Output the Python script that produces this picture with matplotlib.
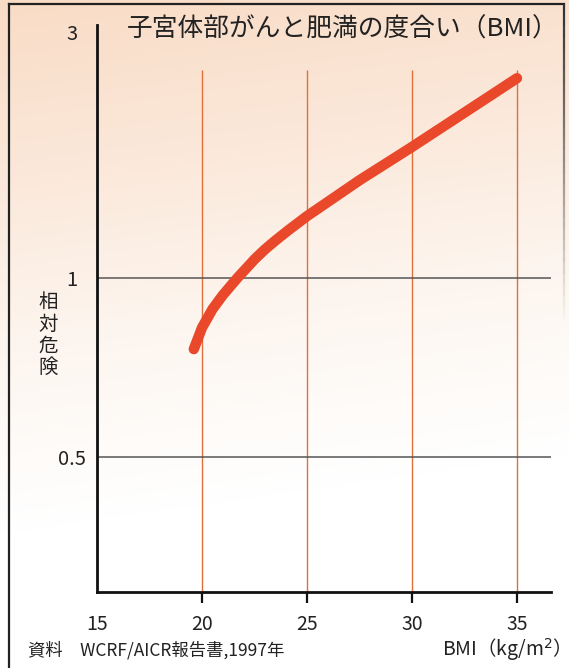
import numpy as np
import matplotlib.pyplot as plt
from matplotlib.lines import Line2D
from matplotlib.collections import LineCollection
from matplotlib.colors import LinearSegmentedColormap

plt.rcParams['font.family'] = ['Noto Sans CJK JP', 'DejaVu Sans']

# BMI vs relative risk (endometrial cancer)
bmi = [19.61, 20.0, 20.5, 20.99, 21.7, 22.12, 22.51, 22.99, 23.46, 24.09,
       25.0, 27.5, 30.0, 32.5, 35.0]
risk = [0.751, 0.817, 0.880, 0.931, 1.0, 1.040, 1.079, 1.123, 1.163, 1.216,
        1.293, 1.51, 1.75, 2.045, 2.40]

xticks = [15, 20, 25, 30, 35]
grid_x = [20, 25, 30, 35]
grid_y = [0.5, 1]
ytick_labels = {3: "3", 1: "1", 0.5: "0.5"}

W, H = 569, 668
fig = plt.figure(figsize=(W / 100, H / 100), dpi=100)

# peach-to-white background
bg = fig.add_axes([0, 0, 1, 1], zorder=-10)
cmap = LinearSegmentedColormap.from_list("peach", ["#f9dcc6", "#fbe8da", "#fdf6f0", "#ffffff"])
yy = np.linspace(0, 1, 256)[:, None]
xx = np.linspace(0, 1, 64)[None, :]
grad = np.clip(yy * 1.25 + xx * 0.15, 0, 1)
bg.imshow(grad, cmap=cmap, aspect="auto", extent=[0, 1, 1, 0])
bg.set_xlim(0, 1)
bg.set_ylim(1, 0)
bg.axis("off")

# frame
def px(x, y):
    return x / W, 1 - y / H

fig.add_artist(Line2D(*zip(px(9, 4), px(9, 668)), color="#222222", lw=1.6))
fig.add_artist(Line2D(*zip(px(9, 4), px(564, 4)), color="#222222", lw=1.6))
seg_y = np.linspace(4, 330, 30)
segs = [[px(564, a), px(564, b)] for a, b in zip(seg_y[:-1], seg_y[1:])]
alphas = np.linspace(1, 0, len(segs))
lc = LineCollection(segs, colors=[(0.2, 0.2, 0.2, a) for a in alphas], lw=1.6,
                    transform=fig.transFigure)
fig.add_artist(lc)

# main axes with a compressed log-like y scale
p = 0.16
fwd = lambda y: -np.power(np.clip(y, 1e-6, None), -p)
inv = lambda f: np.power(np.clip(-f, 1e-6, None), -1 / p)

ax = fig.add_axes([97 / W, 1 - 592 / H, (551 - 97) / W, (592 - 25) / H])
ax.set_yscale("function", functions=(fwd, inv))
ax.set_xlim(15, 36.62)
ax.set_ylim(0.31, 3.1)
ax.patch.set_alpha(0)

for s in ["top", "right"]:
    ax.spines[s].set_visible(False)
ax.spines["left"].set_linewidth(2)
ax.spines["bottom"].set_linewidth(2)
ax.spines["left"].set_color("#111111")
ax.spines["bottom"].set_color("#111111")

ax.vlines(grid_x, 0.31, 2.5, color="#e0703a", lw=1.0, zorder=1)
for g in grid_y:
    ax.axhline(g, color="#555555", lw=1.1, zorder=1)

ax.plot(bmi, risk, color="#e9482a", lw=7.5, solid_capstyle="round",
        solid_joinstyle="round", zorder=3)

ax.set_xticks(xticks)
ax.set_xticklabels([str(t) for t in xticks], fontsize=14, color="#222222")
ax.tick_params(axis="x", length=8, width=1.6, pad=8, color="#111111")
ax.set_yticks(list(ytick_labels.keys()))
ax.set_yticklabels(list(ytick_labels.values()), fontsize=14.5, color="#222222",
                   ha="center")
ax.tick_params(axis="y", length=0, pad=18)
ax.get_xticklines()[0].set_visible(False)

fig.text(127 / W, 1 - 30 / H, "子宮体部がんと肥満の度合い（BMI）", fontsize=18.5,
         ha="left", va="center", color="#222222")
fig.text(48 / W, 1 - 335 / H, "\n".join("相対危険"), fontsize=14,
         ha="center", va="center", linespacing=1.05, color="#222222")
fig.text(28 / W, 1 - 650 / H, "資料　WCRF/AICR報告書,1997年", fontsize=12.5,
         ha="left", va="center", color="#222222")
fig.text(560 / W, 1 - 650 / H, "BMI（kg/m$^2$）", fontsize=14,
         ha="right", va="center", color="#222222")

fig.savefig("out.png", dpi=100)
